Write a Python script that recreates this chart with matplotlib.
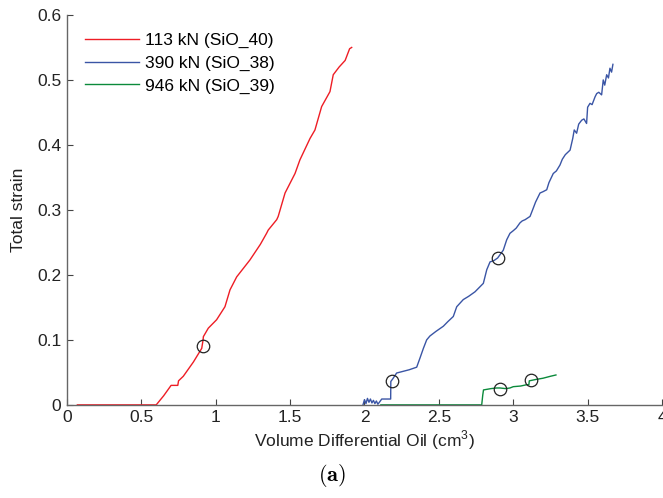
import matplotlib.pyplot as plt

plt.rcParams['font.family'] = ['Liberation Sans', 'DejaVu Sans']
plt.rcParams['mathtext.fontset'] = 'custom'
plt.rcParams['mathtext.rm'] = 'Liberation Sans'

# 113 kN (SiO_40)
red_x = [0.07, 0.60, 0.65, 0.70, 0.737, 0.745, 0.75, 0.782, 0.85, 0.906, 0.915, 0.917,
         0.950, 1.006, 1.062, 1.096, 1.141, 1.230, 1.300, 1.342, 1.353, 1.41, 1.420,
         1.466, 1.533, 1.566, 1.634, 1.667, 1.712, 1.768, 1.790, 1.83, 1.87, 1.90, 1.914]
red_y = [0.0, 0.0, 0.014, 0.030, 0.030, 0.030, 0.037, 0.044, 0.066, 0.087, 0.100, 0.105,
         0.118, 0.131, 0.151, 0.177, 0.197, 0.223, 0.247, 0.264, 0.269, 0.285, 0.290,
         0.326, 0.356, 0.377, 0.410, 0.423, 0.459, 0.482, 0.508, 0.520, 0.530, 0.548, 0.550]

# 390 kN (SiO_38)
blue_x = [1.99, 2.00, 2.01, 2.02, 2.03, 2.04, 2.05, 2.06, 2.07, 2.08, 2.09, 2.10, 2.116,
          2.176, 2.177, 2.19, 2.216, 2.30, 2.351, 2.373, 2.396, 2.418, 2.440, 2.48, 2.53,
          2.56, 2.597, 2.62, 2.664, 2.70, 2.743, 2.799, 2.822, 2.844, 2.870, 2.895, 2.933,
          2.956, 2.978, 3.00, 3.02, 3.045, 3.06, 3.08, 3.113, 3.13, 3.15, 3.180, 3.20,
          3.225, 3.24, 3.269, 3.29, 3.314, 3.33, 3.35, 3.382, 3.40, 3.41, 3.426, 3.44,
          3.46, 3.475, 3.493, 3.50, 3.516, 3.53, 3.55, 3.561, 3.575, 3.594, 3.605, 3.615,
          3.628, 3.64, 3.65, 3.661, 3.67]
blue_y = [0.0, 0.008, 0.002, 0.010, 0.004, 0.009, 0.003, 0.007, 0.002, 0.006, 0.001, 0.004,
          0.009, 0.009, 0.036, 0.040, 0.049, 0.054, 0.058, 0.072, 0.087, 0.100, 0.106, 0.113,
          0.121, 0.128, 0.136, 0.151, 0.162, 0.167, 0.174, 0.187, 0.208, 0.220, 0.222,
          0.226, 0.238, 0.254, 0.264, 0.268, 0.272, 0.280, 0.283, 0.285, 0.290, 0.300,
          0.312, 0.326, 0.328, 0.331, 0.342, 0.356, 0.360, 0.369, 0.378, 0.385, 0.392,
          0.410, 0.423, 0.418, 0.432, 0.438, 0.440, 0.433, 0.458, 0.464, 0.462, 0.474,
          0.479, 0.481, 0.477, 0.500, 0.492, 0.508, 0.503, 0.518, 0.512, 0.524]

# 946 kN (SiO_39)
green_x = [2.11, 2.788, 2.795, 2.80, 2.85, 2.888, 2.911, 2.95, 2.978, 3.0, 3.05, 3.09,
           3.105, 3.108, 3.15, 3.20, 3.25, 3.287]
green_y = [0.0, 0.0, 0.015, 0.023, 0.025, 0.026, 0.026, 0.025, 0.026, 0.028, 0.029, 0.031,
           0.031, 0.037, 0.039, 0.041, 0.044, 0.046]

# circle markers
mark_x = [0.912, 2.183, 2.895, 2.911, 3.117]
mark_y = [0.090, 0.036, 0.226, 0.025, 0.038]

x_ticks = [0, 0.5, 1, 1.5, 2, 2.5, 3, 3.5, 4]
x_labels = ['0', '0.5', '1', '1.5', '2', '2.5', '3', '3.5', '4']
y_ticks = [0, 0.1, 0.2, 0.3, 0.4, 0.5, 0.6]
y_labels = ['0', '0.1', '0.2', '0.3', '0.4', '0.5', '0.6']

fs = 12.5

fig = plt.figure(figsize=(6.63, 4.98), dpi=100)
ax = fig.add_axes([0.101, 0.187, 0.8975, 0.783])

ax.plot(red_x, red_y, color='#ee1d25', lw=1.0, label='113 kN (SiO_40)')
ax.plot(blue_x, blue_y, color='#3a55a5', lw=1.0, label='390 kN (SiO_38)')
ax.plot(green_x, green_y, color='#0b8a3b', lw=1.0, label='946 kN (SiO_39)')
ax.plot(mark_x, mark_y, 'o', mfc='none', mec='#222222', ms=9, mew=0.9)

ax.set_xlim(0, 4)
ax.set_ylim(0, 0.6)
ax.set_xticks(x_ticks)
ax.set_xticklabels(x_labels)
ax.set_yticks(y_ticks)
ax.set_yticklabels(y_labels)
ax.tick_params(direction='in', length=4, width=0.8, colors='#444444', labelcolor='#222222',
               labelsize=fs, pad=4)
for s in ['top', 'right']:
    ax.spines[s].set_visible(False)
for s in ['left', 'bottom']:
    ax.spines[s].set_color('#666666')
    ax.spines[s].set_linewidth(1.0)

ax.set_xlabel('Volume Differential Oil (cm$^3$)', fontsize=fs, color='#222222', labelpad=2)
ax.set_ylabel('Total strain', fontsize=fs, color='#222222', labelpad=8)

ax.legend(loc='upper left', frameon=False, fontsize=fs, handlelength=3.1,
          handletextpad=0.35, labelspacing=0.42, bbox_to_anchor=(0.0, 1.0),
          borderaxespad=0.65)

fig.text(0.5, 0.045, r'$\mathbf{(a)}$', ha='center', va='center', fontsize=16,
         math_fontfamily='cm')

fig.savefig('out.png', dpi=100)
